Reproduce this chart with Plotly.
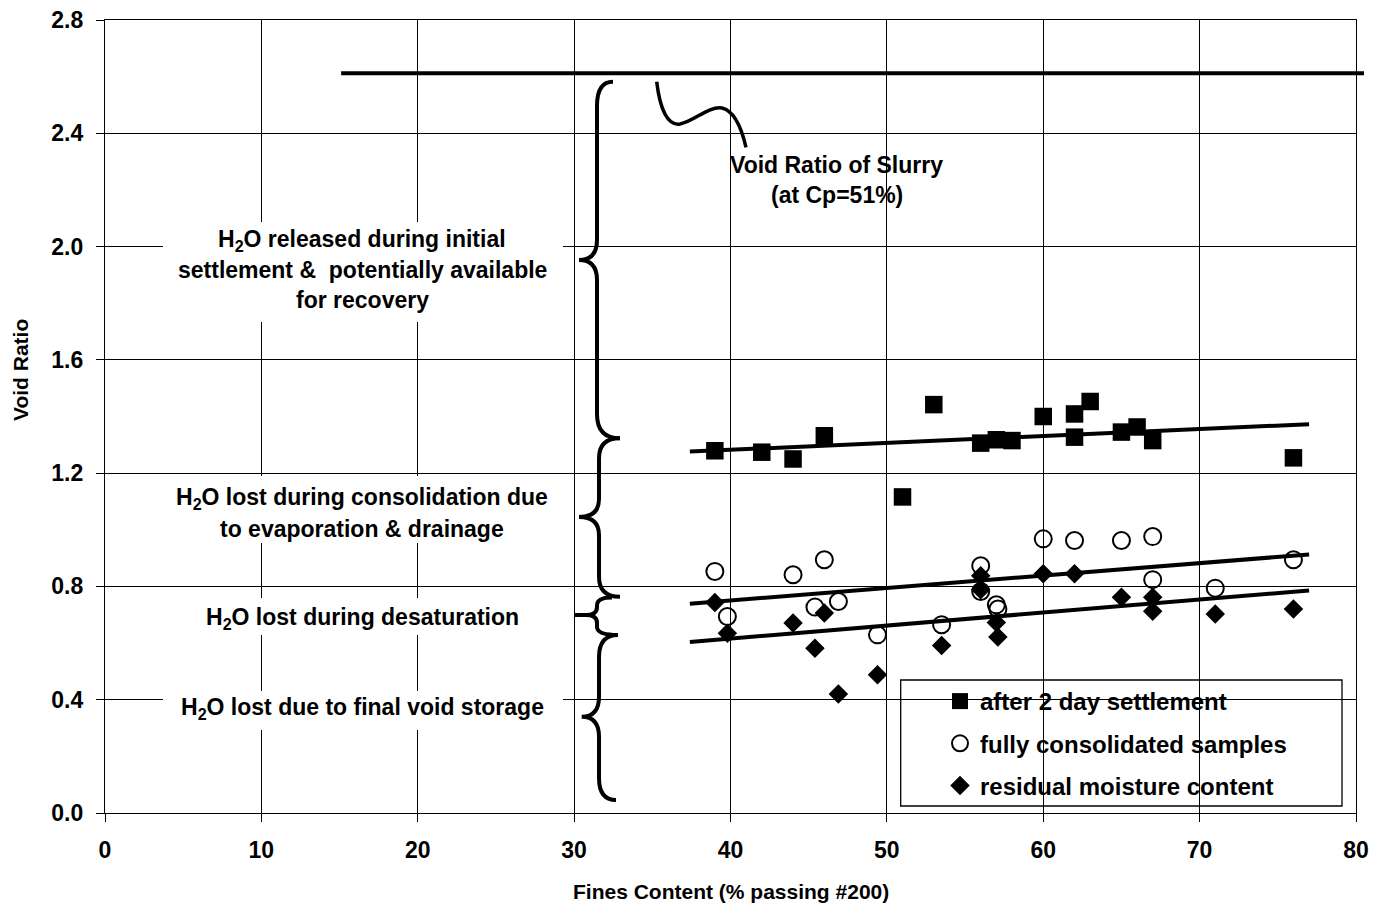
import plotly.graph_objects as go

# ---------------- data ----------------
settle_x = [39, 42, 44, 46, 53, 51, 56, 57, 58, 60, 62, 62, 63, 65, 66, 67, 76]
settle_y = [1.279, 1.274, 1.250, 1.332, 1.442, 1.116, 1.306, 1.318, 1.315, 1.400,
            1.409, 1.327, 1.453, 1.345, 1.363, 1.315, 1.254]

consol_x = [39.0, 39.8, 44.0, 46.0, 45.4, 46.9, 49.4, 53.5, 56.0, 56.0, 57.0, 57.1,
            60.0, 62.0, 65.0, 67.0, 67.0, 71.0, 76.0]
consol_y = [0.853, 0.694, 0.841, 0.894, 0.727, 0.747, 0.629, 0.665, 0.873, 0.782,
            0.735, 0.720, 0.968, 0.962, 0.962, 0.976, 0.824, 0.794, 0.894]

resid_x = [39.0, 39.8, 44.0, 46.0, 45.4, 46.9, 49.4, 53.5, 56.0, 56.0, 57.0, 57.1,
           60.0, 62.0, 65.0, 67.0, 67.0, 71.0, 76.0]
resid_y = [0.743, 0.635, 0.671, 0.706, 0.582, 0.420, 0.488, 0.591, 0.838, 0.788,
           0.673, 0.621, 0.845, 0.845, 0.762, 0.762, 0.712, 0.703, 0.720]

trend_x = [37.4, 77.0]
settle_trend = [1.276, 1.373]
consol_trend = [0.739, 0.913]
resid_trend = [0.604, 0.786]

slurry_void_ratio = 2.612
slurry_x_start = 15.1

x_ticks = [0, 10, 20, 30, 40, 50, 60, 70, 80]
y_ticks = [0.0, 0.4, 0.8, 1.2, 1.6, 2.0, 2.4, 2.8]

series_names = ["after 2 day settlement", "fully consolidated samples",
                "residual moisture content"]

# ---------------- geometry helpers (page pixel coords) ----------------
L, T, W, H = 105, 20, 1251, 793   # plot area on the page
XMAX, YMAX = 80.0, 2.8
FIG_W, FIG_H = 1384, 911


def X(px):
    return (px - L) / W * XMAX


def Y(py):
    return (T + H - py) / H * YMAX


def PX(px):
    return (px - L) / W


def PY(py):
    return (T + H - py) / H


FONT = "Liberation Sans, Arial, sans-serif"


def bold(size):
    return dict(family=FONT, size=size, color="black", weight="bold")


fig = go.Figure()

# trend lines
for ty in (settle_trend, consol_trend, resid_trend):
    fig.add_trace(go.Scatter(x=trend_x, y=ty, mode="lines",
                             line=dict(color="black", width=4),
                             showlegend=False, hoverinfo="skip"))

fig.add_trace(go.Scatter(x=settle_x, y=settle_y, mode="markers", name=series_names[0],
                         legendgroup="a",
                         marker=dict(symbol="square", size=17.5, color="black")))
fig.add_trace(go.Scatter(x=consol_x, y=consol_y, mode="markers", name=series_names[1],
                         legendgroup="b",
                         marker=dict(symbol="circle-open", size=17, color="black",
                                     line=dict(width=2, color="black"))))
fig.add_trace(go.Scatter(x=resid_x, y=resid_y, mode="markers", name=series_names[2],
                         legendgroup="c",
                         marker=dict(symbol="diamond", size=15, color="black")))

shapes = []

# slurry line (extends slightly past the plot area)
shapes.append(dict(type="line", xref="paper", yref="y",
                   x0=PX(L + slurry_x_start / XMAX * W), x1=PX(1364),
                   y0=slurry_void_ratio, y1=slurry_void_ratio,
                   line=dict(color="black", width=4)))


def brace(xv, xe0, xe1, xt, y0, y1, yt, r, rt):
    pts = []
    pts.append("M%.4f,%.4f" % (X(xe0), Y(y0)))
    pts.append("Q%.4f,%.4f %.4f,%.4f" % (X(xv), Y(y0), X(xv), Y(y0 + r)))
    pts.append("L%.4f,%.4f" % (X(xv), Y(yt - rt)))
    pts.append("Q%.4f,%.4f %.4f,%.4f" % (X(xv), Y(yt), X(xt), Y(yt)))
    pts.append("Q%.4f,%.4f %.4f,%.4f" % (X(xv), Y(yt), X(xv), Y(yt + rt)))
    pts.append("L%.4f,%.4f" % (X(xv), Y(y1 - r)))
    pts.append("Q%.4f,%.4f %.4f,%.4f" % (X(xv), Y(y1), X(xe1), Y(y1)))
    return dict(type="path", xref="x", yref="y", path=" ".join(pts),
                line=dict(color="black", width=4))


shapes.append(brace(597, 613, 620, 579, 81.7, 438.3, 260, 24, 20))
shapes.append(brace(599, 620, 620, 579, 438.3, 596.7, 517, 20, 18))
shapes.append(brace(597, 612, 618, 586, 597.5, 635, 615, 8, 8))
shapes.append(dict(type="line", xref="x", yref="y", x0=X(574), x1=X(592),
                   y0=Y(615), y1=Y(615), line=dict(color="black", width=4)))
shapes.append(brace(599, 618, 616, 581.7, 635, 800, 716.7, 22, 20))

# wavy pointer to slurry line
wave = [(656.7, 81.7), (660, 110), (668, 126), (680, 124),
        (695, 121), (708, 106), (722, 108),
        (735, 111), (742, 130), (746, 147.3)]
wp = "M%.4f,%.4f" % (X(wave[0][0]), Y(wave[0][1]))
for i in range(1, len(wave), 3):
    a, b, c = wave[i], wave[i + 1], wave[i + 2]
    wp += " C%.4f,%.4f %.4f,%.4f %.4f,%.4f" % (X(a[0]), Y(a[1]), X(b[0]), Y(b[1]),
                                               X(c[0]), Y(c[1]))
shapes.append(dict(type="path", xref="x", yref="y", path=wp,
                   line=dict(color="black", width=3.5)))

# white label boxes (between gridlines and traces)
for (xa, xb, ya, yb) in [(163, 563, 222, 322), (163, 563, 476, 543),
                         (163, 563, 598, 635), (163, 563, 691, 730)]:
    shapes.append(dict(type="rect", xref="x", yref="y", layer="between",
                       x0=X(xa), x1=X(xb), y0=Y(yb), y1=Y(ya),
                       fillcolor="white", line=dict(width=0)))

# legend frame
shapes.append(dict(type="rect", xref="paper", yref="paper", layer="between",
                   x0=PX(900.7), x1=PX(1342), y0=PY(806), y1=PY(680),
                   fillcolor="white", line=dict(color="black", width=1.3)))

annotations = []
label_lines = [
    ("H<sub>2</sub>O released during initial", 240),
    ("settlement &  potentially available", 270),
    ("for recovery", 300),
    ("H<sub>2</sub>O lost during consolidation due", 498),
    ("to evaporation & drainage", 529),
    ("H<sub>2</sub>O lost during desaturation", 618),
    ("H<sub>2</sub>O lost due to final void storage", 708),
]
for txt, py in label_lines:
    annotations.append(dict(x=X(362), y=Y(py), xref="x", yref="y", text=txt,
                            showarrow=False, xanchor="center", yanchor="middle",
                            font=bold(23)))

annotations.append(dict(x=X(836.5), y=Y(165), xref="x", yref="y",
                        text="Void Ratio of Slurry", showarrow=False,
                        xanchor="center", yanchor="middle", font=bold(23)))
annotations.append(dict(x=X(836.5), y=Y(195), xref="x", yref="y",
                        text="(at Cp=51%)", showarrow=False,
                        xanchor="center", yanchor="middle", font=bold(23)))

# axis titles
annotations.append(dict(x=0.5, y=PY(892), xref="paper", yref="paper",
                        text="Fines Content (% passing #200)",
                        xanchor="center", yanchor="middle",
                        showarrow=False, font=bold(21)))
annotations.append(dict(x=PX(20), y=PY(370), xref="paper", yref="paper",
                        text="Void Ratio", textangle=-90, showarrow=False,
                        xanchor="center", yanchor="middle", font=bold(21)))

fig.update_layout(
    width=FIG_W, height=FIG_H,
    margin=dict(l=L, r=FIG_W - L - W, t=T, b=FIG_H - T - H, autoexpand=False),
    paper_bgcolor="white", plot_bgcolor="white",
    font=dict(family=FONT, size=22, color="black"),
    shapes=shapes, annotations=annotations,
    showlegend=True,
    legend=dict(x=PX(940), y=PY(679), xanchor="left", yanchor="top",
                bgcolor="rgba(0,0,0,0)", borderwidth=0,
                font=bold(24), tracegroupgap=8, itemsizing="trace"),
)
fig.update_xaxes(range=[0, XMAX], tickvals=x_ticks, ticktext=["%d" % v for v in x_ticks],
                 automargin=False, ticklabeloverflow="allow",
                 showgrid=True, gridcolor="black", gridwidth=1,
                 showline=True, linecolor="black", linewidth=1.3, mirror=True,
                 ticks="outside", ticklen=8, tickcolor="black",
                 ticklabelstandoff=8, zeroline=False,
                 tickfont=bold(23))
fig.update_yaxes(range=[0, YMAX], tickvals=y_ticks, ticktext=["%.1f" % v for v in y_ticks],
                 automargin=False, ticklabeloverflow="allow",
                 showgrid=True, gridcolor="black", gridwidth=1,
                 showline=True, linecolor="black", linewidth=1.3, mirror=True,
                 ticks="outside", ticklen=8, tickcolor="black",
                 ticklabelstandoff=8, zeroline=False,
                 tickfont=bold(23))

fig.write_html("out.html", config={"displayModeBar": False},
               post_script="document.body.style.margin='0';"
                           "document.body.style.overflow='hidden';")
